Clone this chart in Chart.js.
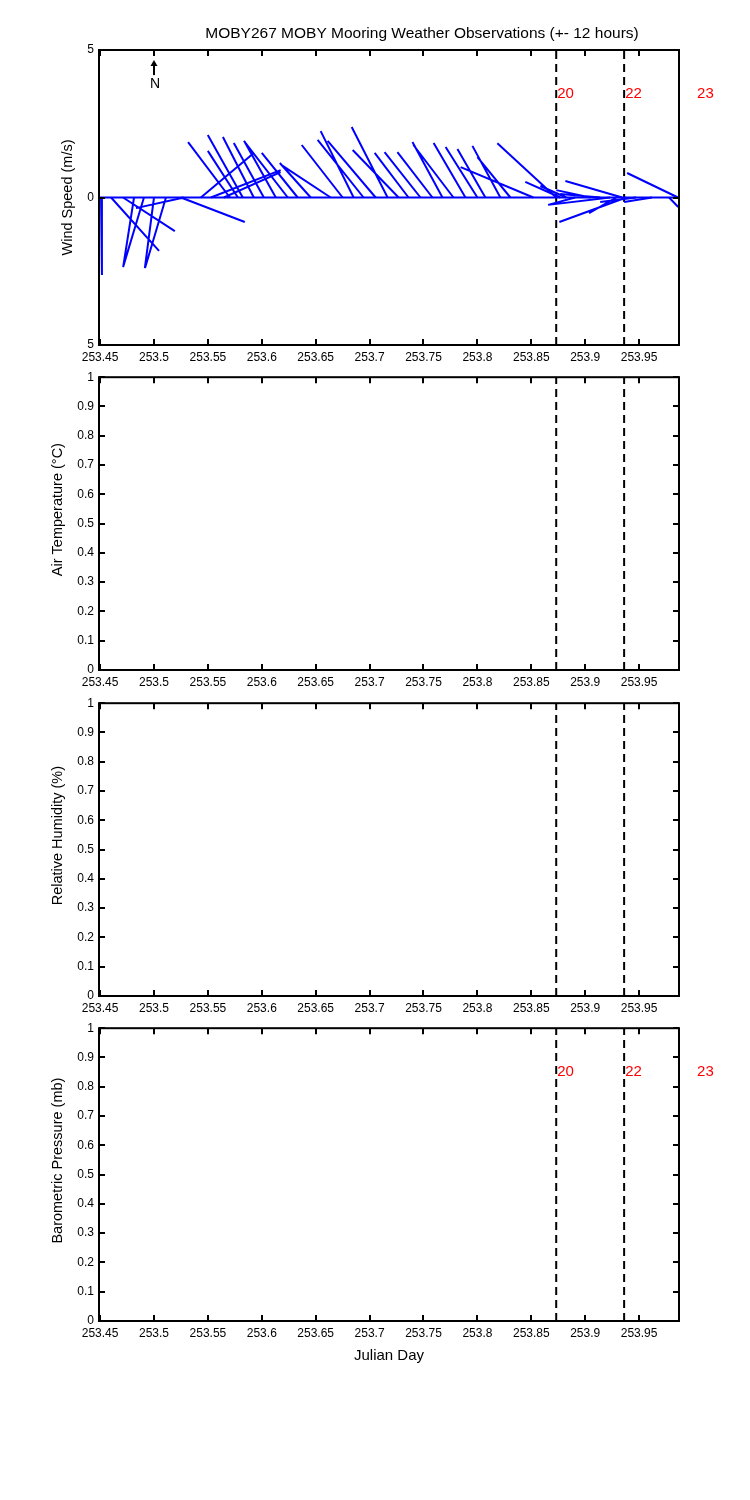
<!DOCTYPE html>
<html>
<head>
<meta charset="utf-8">
<title>MOBY267 Weather</title>
<script src="https://cdn.jsdelivr.net/npm/chart.js@4.4.0/dist/chart.umd.min.js"></script>
<style>
  body { margin: 0; background: #fff; }
  #wrap { position: relative; width: 750px; height: 1500px; background: #fff; }
  #wrap canvas { position: absolute; left: 0; }
</style>
</head>
<body>
<div id="wrap">
  <canvas id="wind" width="750" height="370" style="top:0px;width:750px;height:370px"></canvas>
  <canvas id="air" width="750" height="330" style="top:365px;width:750px;height:330px"></canvas>
  <canvas id="rh" width="750" height="330" style="top:691px;width:750px;height:330px"></canvas>
  <canvas id="baro" width="750" height="353" style="top:1016px;width:750px;height:353px"></canvas>
</div>
<script>
// wind sticks: base time (Julian day), east and north components (m/s)
const windDay = [
  253.4509, 253.4602, 253.4713, 253.4815, 253.4907, 253.5000, 253.5111, 253.5250, 253.5278,
  253.5435, 253.5528, 253.5648, 253.5704, 253.5778, 253.5824, 253.5926, 253.6019, 253.6130,
  253.6241, 253.6333, 253.6454, 253.6639, 253.6750, 253.6852, 253.6944, 253.7056, 253.7167,
  253.7269, 253.7361, 253.7472, 253.7583, 253.7676, 253.7778, 253.7889, 253.8000, 253.8074,
  253.8213, 253.8306, 253.8519, 253.8731, 253.8769, 253.8824, 253.8907, 253.9046, 253.9139,
  253.9231, 253.9287, 253.9343, 253.9380, 253.9472, 253.9620, 253.9778, 253.9861
];
const windU = [
   0.03,  1.63,  1.76, -0.37, -0.71, -0.31, -0.71,  2.17, -1.63,
   1.80,  2.37,  1.93, -1.42, -1.02, -1.19, -1.05, -1.02, -1.08,
  -1.46, -1.22, -1.05, -1.63, -1.39, -1.12, -1.56, -1.63, -1.22,
  -1.56, -1.15, -1.22, -1.19, -1.02, -1.36, -1.08, -1.08, -0.95,
  -0.95, -1.12, -2.47, -2.00, -1.19, -0.88, -0.92, -1.15, -1.36,
  -2.10, -0.92, -1.93, -2.27, -1.22, -0.95,  0.31, -1.73
];
const windV = [
  -2.63, -1.81, -1.14, -2.36, -2.36, -2.39, -2.39, -0.83, -0.36,
   1.51,  0.93,  0.86,  1.88,  1.58,  2.12,  2.05,  1.85,  1.92,
   1.88,  1.51,  1.17,  1.07,  1.78,  2.25,  1.95,  1.92,  2.39,
   1.61,  1.51,  1.54,  1.54,  1.88,  1.78,  1.85,  1.71,  1.64,
   1.75,  1.37,  1.03,  1.84,  0.53,  0.39, -0.25,  0.25,  0.12,
  -0.25, -0.53,  0.56, -0.83, -0.15, -0.15, -0.32,  0.83
];

const dayMin = 253.449;
const dayMax = 253.987;
const dayTicks = [253.45, 253.5, 253.55, 253.6, 253.65, 253.7, 253.75, 253.8, 253.85, 253.9, 253.95];
const dayTickLabels = ['253.45', '253.5', '253.55', '253.6', '253.65', '253.7', '253.75', '253.8', '253.85', '253.9', '253.95'];

const windTicks = [-5, 0, 5];
const windTickLabels = ['5', '0', '5'];
const unitTicks = [0, 0.1, 0.2, 0.3, 0.4, 0.5, 0.6, 0.7, 0.8, 0.9, 1];
const unitTickLabels = ['0', '0.1', '0.2', '0.3', '0.4', '0.5', '0.6', '0.7', '0.8', '0.9', '1'];

const markerDays = [253.8731, 253.9361, 254.0028];
const markerLabels = ['20', '22', '23'];

const chartTitle = 'MOBY267 MOBY Mooring Weather Observations (+- 12 hours)';
const FONT = "'Liberation Sans', Arial, Helvetica, sans-serif";
const STICK_SCALE = 0.0273;   // days of x per m/s so sticks keep true direction

Chart.defaults.font.family = FONT;
Chart.defaults.color = '#000';

// box round the axes with inward ticks, y label, red hour labels, title, north arrow
const framePlugin = {
  id: 'frame',
  afterDraw(chart, args, opts) {
    const { ctx, chartArea: a, scales: { x, y } } = chart;
    ctx.save();
    ctx.strokeStyle = '#000';
    ctx.lineWidth = 2;
    ctx.strokeRect(a.left, a.top, a.right - a.left, a.bottom - a.top);
    ctx.beginPath();
    x.ticks.forEach(t => {
      const px = Math.round(x.getPixelForValue(t.value));
      ctx.moveTo(px, a.bottom); ctx.lineTo(px, a.bottom - 6);
      ctx.moveTo(px, a.top); ctx.lineTo(px, a.top + 6);
    });
    y.ticks.forEach(t => {
      const py = Math.round(y.getPixelForValue(t.value));
      ctx.moveTo(a.left, py); ctx.lineTo(a.left + 6, py);
      ctx.moveTo(a.right, py); ctx.lineTo(a.right - 6, py);
    });
    ctx.stroke();

    if (opts.yTitle) {
      ctx.save();
      ctx.fillStyle = '#000';
      ctx.font = '14.5px ' + FONT;
      ctx.textAlign = 'center';
      ctx.textBaseline = 'middle';
      ctx.translate(opts.yTitleX, (a.top + a.bottom) / 2 - opts.yTitleShift);
      ctx.rotate(-Math.PI / 2);
      ctx.fillText(opts.yTitle, 0, 0);
      ctx.restore();
    }
    if (opts.hourLabels) {
      ctx.fillStyle = '#ff0000';
      ctx.font = '15px ' + FONT;
      ctx.textAlign = 'left';
      ctx.textBaseline = 'middle';
      const yv = y.min + 0.85 * (y.max - y.min);
      markerDays.forEach((d, i) => {
        ctx.fillText(markerLabels[i], x.getPixelForValue(d) + 1, y.getPixelForValue(yv));
      });
    }
    if (opts.title) {
      ctx.fillStyle = '#000';
      ctx.font = '15.5px ' + FONT;
      ctx.textAlign = 'center';
      ctx.textBaseline = 'middle';
      ctx.fillText(opts.title, 422, 34);
    }
    if (opts.north) {
      const px = x.getPixelForValue(opts.north.day);
      const top = y.getPixelForValue(opts.north.tip);
      const bot = y.getPixelForValue(opts.north.tail);
      ctx.fillStyle = '#000';
      ctx.beginPath();
      ctx.moveTo(px, bot); ctx.lineTo(px, top + 4);
      ctx.stroke();
      ctx.beginPath();
      ctx.moveTo(px, top); ctx.lineTo(px - 3.5, top + 6); ctx.lineTo(px + 3.5, top + 6);
      ctx.closePath();
      ctx.fill();
      ctx.font = '14px ' + FONT;
      ctx.textAlign = 'center';
      ctx.textBaseline = 'middle';
      ctx.fillText('N', px + 1, y.getPixelForValue(opts.north.label));
    }
    ctx.restore();
  }
};

function markerSets(lo, hi) {
  return markerDays.map(d => ({
    data: [{ x: d, y: lo }, { x: d, y: hi }],
    showLine: true,
    borderColor: '#000',
    borderWidth: 2,
    borderDash: [8, 5],
    pointRadius: 0
  }));
}

function makePanel(id, cfg) {
  return new Chart(document.getElementById(id), {
    type: 'scatter',
    data: { datasets: cfg.datasets },
    options: {
      responsive: false,
      animation: false,
      devicePixelRatio: 1,
      layout: { padding: { left: 0, right: 71, top: cfg.padTop, bottom: 0 } },
      plugins: {
        legend: { display: false },
        tooltip: { enabled: false },
        frame: cfg.frame
      },
      scales: {
        x: {
          type: 'linear',
          min: dayMin,
          max: dayMax,
          grid: { display: false, drawTicks: false },
          border: { display: false },
          afterBuildTicks: s => { s.ticks = dayTicks.map(v => ({ value: v })); },
          afterFit: s => { s.height = cfg.xHeight; },
          ticks: {
            autoSkip: false,
            maxRotation: 0,
            padding: 5,
            font: { size: 12 },
            callback: (v, i) => dayTickLabels[i]
          },
          title: {
            display: !!cfg.xTitle,
            text: cfg.xTitle || '',
            font: { size: 15 },
            padding: { top: 4, bottom: 4 }
          }
        },
        y: {
          type: 'linear',
          min: cfg.yTicks[0],
          max: cfg.yTicks[cfg.yTicks.length - 1],
          grid: { display: false, drawTicks: false },
          border: { display: false },
          afterBuildTicks: s => { s.ticks = cfg.yTicks.map(v => ({ value: v })); },
          afterFit: s => { s.width = 99; },
          ticks: {
            padding: 5,
            font: { size: 12 },
            callback: (v, i) => cfg.yLabels[i]
          }
        }
      }
    },
    plugins: [framePlugin]
  });
}

// wind sticks, one segment per observation, gaps between them
const stickPts = [];
windDay.forEach((d, i) => {
  stickPts.push({ x: d, y: 0 });
  stickPts.push({ x: d + windU[i] * STICK_SCALE, y: windV[i] });
  stickPts.push({ x: d, y: null });
});

makePanel('wind', {
  padTop: 50,
  xHeight: 25,
  yTicks: windTicks,
  yLabels: windTickLabels,
  frame: {
    yTitle: 'Wind Speed (m/s)', yTitleX: 68, yTitleShift: 0,
    hourLabels: true,
    title: chartTitle,
    north: { day: 253.5, tip: 4.66, tail: 4.15, label: 3.85 }
  },
  datasets: [
    {
      data: [{ x: dayMin, y: 0 }, { x: dayMax, y: 0 }],
      showLine: true, borderColor: '#0000ff', borderWidth: 2, pointRadius: 0
    },
    {
      data: stickPts,
      showLine: true, spanGaps: false, borderColor: '#0000ff', borderWidth: 2, pointRadius: 0
    },
    ...markerSets(-5, 5)
  ]
});

makePanel('air', {
  padTop: 10, xHeight: 25,
  yTicks: unitTicks, yLabels: unitTickLabels,
  frame: { yTitle: 'Air Temperature (°C)', yTitleX: 57.5, yTitleShift: 14 },
  datasets: markerSets(0, 1)
});

makePanel('rh', {
  padTop: 10, xHeight: 25,
  yTicks: unitTicks, yLabels: unitTickLabels,
  frame: { yTitle: 'Relative Humidity (%)', yTitleX: 57.5, yTitleShift: 14 },
  datasets: markerSets(0, 1)
});

makePanel('baro', {
  padTop: 10, xHeight: 48,
  yTicks: unitTicks, yLabels: unitTickLabels,
  xTitle: 'Julian Day',
  frame: { yTitle: 'Barometric Pressure (mb)', yTitleX: 57.5, yTitleShift: 14, hourLabels: true },
  datasets: markerSets(0, 1)
});
</script>
</body>
</html>
